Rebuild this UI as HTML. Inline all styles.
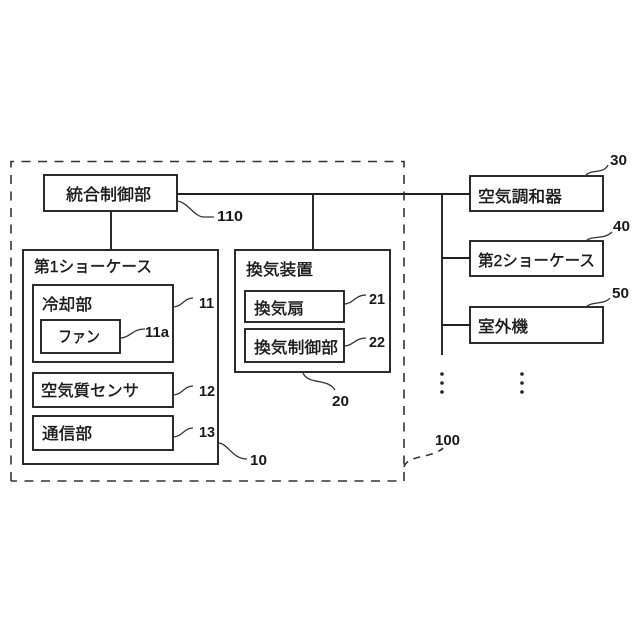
<!DOCTYPE html>
<html><head><meta charset="utf-8">
<style>
html,body{margin:0;padding:0;background:#fff;width:640px;height:640px;overflow:hidden}
svg{display:block}
text{font-family:"Liberation Sans","Noto Sans CJK JP",sans-serif;fill:#1a1a1a}
.j{font-size:16px;stroke:#1a1a1a;stroke-width:.4px}
.n{font-size:15px;font-weight:700}
rect{fill:#fff;stroke:#222;stroke-width:1.9}
.l{fill:none;stroke:#222;stroke-width:1.9}
.c{fill:none;stroke:#333;stroke-width:1.3}
.d{fill:none;stroke:#333;stroke-width:1.6;stroke-dasharray:9 7.5}
</style></head><body>
<svg width="640" height="640" viewBox="0 0 640 640" xmlns="http://www.w3.org/2000/svg">
<rect x="0" y="0" width="640" height="640" style="fill:#fff;stroke:none"/>
<path class="d" d="M11 481V161.500H404V481H11"/>
<path class="d" d="M404 467C406 460 415 458 424 456 C430 455 441 451 443 448" style="stroke-dasharray:7 6"/>
<path class="l" d="M177 194H470M442 194V355M442 258H470M442 325H470M313 194V250M111 211V250"/>
<rect x="44" y="175" width="133" height="36"/>
<rect x="23" y="250" width="195" height="214"/>
<rect x="33" y="285" width="140" height="77"/>
<rect x="41" y="320" width="79" height="33"/>
<rect x="33" y="373" width="140" height="34"/>
<rect x="33" y="416" width="140" height="34"/>
<rect x="235" y="250" width="155" height="122"/>
<rect x="245" y="291" width="99" height="31"/>
<rect x="245" y="329" width="99" height="33"/>
<rect x="470" y="176" width="133" height="35"/>
<rect x="470" y="241" width="133" height="35"/>
<rect x="470" y="307" width="133" height="36"/>
<text class="j" x="66" y="200" textLength="85" lengthAdjust="spacingAndGlyphs">統合制御部</text>
<text class="j" x="34" y="272" textLength="118" lengthAdjust="spacingAndGlyphs">第1ショーケース</text>
<text class="j" x="42" y="310" textLength="50" lengthAdjust="spacingAndGlyphs">冷却部</text>
<text class="j" x="58" y="342" textLength="42" lengthAdjust="spacingAndGlyphs">ファン</text>
<text class="j" x="41" y="396" textLength="98" lengthAdjust="spacingAndGlyphs">空気質センサ</text>
<text class="j" x="42" y="439" textLength="50" lengthAdjust="spacingAndGlyphs">通信部</text>
<text class="j" x="246" y="275" textLength="67" lengthAdjust="spacingAndGlyphs">換気装置</text>
<text class="j" x="254" y="314" textLength="50" lengthAdjust="spacingAndGlyphs">換気扇</text>
<text class="j" x="254" y="353" textLength="84" lengthAdjust="spacingAndGlyphs">換気制御部</text>
<text class="j" x="478" y="202" textLength="84" lengthAdjust="spacingAndGlyphs">空気調和器</text>
<text class="j" x="478" y="266" textLength="117" lengthAdjust="spacingAndGlyphs">第2ショーケース</text>
<text class="j" x="478" y="332" textLength="50" lengthAdjust="spacingAndGlyphs">室外機</text>
<path class="c" d="M177 201C188 202 194 217 204 217H214"/>
<path class="c" d="M173 307C182 307 184 298 193 298"/>
<path class="c" d="M120 338C130 338 132 329 145 329"/>
<path class="c" d="M173 395C182 395 184 386 193 386"/>
<path class="c" d="M173 437C182 437 184 428 193 428"/>
<path class="c" d="M218 443C228 443 232 459 247 459"/>
<path class="c" d="M344 304C353 304 355 295 366 295"/>
<path class="c" d="M344 346C353 346 355 338 366 338"/>
<path class="c" d="M303 373C308 385 328 378 335 390"/>
<path class="c" d="M586 175C592 169 604 174 608 165"/>
<path class="c" d="M586 241C592 235 604 240 612 232"/>
<path class="c" d="M586 307C592 301 604 305 610 298"/>
<text class="n" x="217" y="221" textLength="26" lengthAdjust="spacingAndGlyphs">110</text>
<text class="n" x="199" y="308" textLength="15" lengthAdjust="spacingAndGlyphs">11</text>
<text class="n" x="145" y="337" textLength="24" lengthAdjust="spacingAndGlyphs">11a</text>
<text class="n" x="199" y="396" textLength="16" lengthAdjust="spacingAndGlyphs">12</text>
<text class="n" x="199" y="437" textLength="16" lengthAdjust="spacingAndGlyphs">13</text>
<text class="n" x="250" y="465" textLength="17" lengthAdjust="spacingAndGlyphs">10</text>
<text class="n" x="369" y="304" textLength="16" lengthAdjust="spacingAndGlyphs">21</text>
<text class="n" x="369" y="347" textLength="16" lengthAdjust="spacingAndGlyphs">22</text>
<text class="n" x="332" y="406" textLength="17" lengthAdjust="spacingAndGlyphs">20</text>
<text class="n" x="435" y="445" textLength="25" lengthAdjust="spacingAndGlyphs">100</text>
<text class="n" x="610" y="165" textLength="17" lengthAdjust="spacingAndGlyphs">30</text>
<text class="n" x="613" y="231" textLength="17" lengthAdjust="spacingAndGlyphs">40</text>
<text class="n" x="612" y="298" textLength="17" lengthAdjust="spacingAndGlyphs">50</text>
<g fill="#222">
<circle cx="442" cy="374" r="1.800"/><circle cx="442" cy="383" r="1.800"/><circle cx="442" cy="392" r="1.800"/>
<circle cx="522" cy="374" r="1.800"/><circle cx="522" cy="383" r="1.800"/><circle cx="522" cy="392" r="1.800"/>
</g>
</svg>
</body></html>
